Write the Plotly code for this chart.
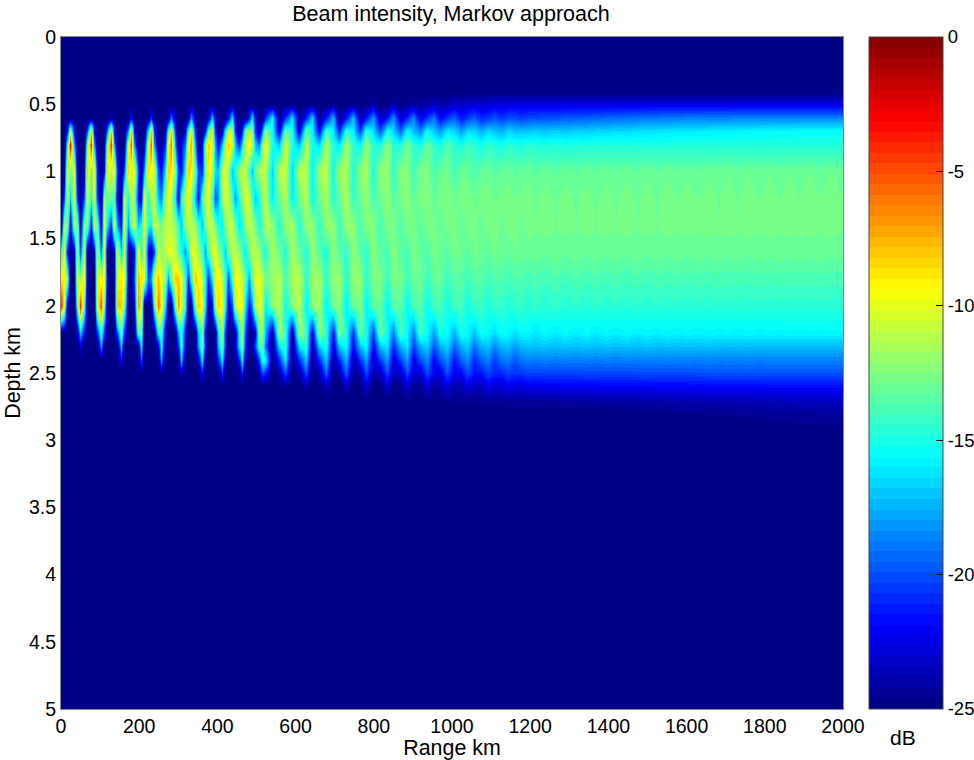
import plotly.graph_objects as go

# Column positions (km), read lobe by lobe from the picture
range_near = [0, 6.8,15.4,24,32.6,41.2,49.8, 58.4,67,75.6,84.2,92.8,101.4, 110,118.6,127.2,135.8,144.4,153,
              161.6,170.2,178.8,187.4,196,204.6, 213.2,221.8,230.4,239,247.6,256.2, 264.8,273.4,282,290.6,299.2,307.8,
              316.4,325,333.6,342.2,350.8,359.4, 368,376.6,385.2,393.8,402.4,411, 419.6,428.2,436.8,445.4,454,462.6,
              471.2,479.8,488.4,497,505.6,514.2]
range_mid = [523, 540,557,574, 592,609,626, 643,660,678, 695,712,729, 746,764,781, 798,815,833, 850,867,884,
             901,919,936, 953,970,988, 1005,1022,1039, 1056,1074,1091, 1108,1125,1143, 1160,1177,1194]
range_far = [1212,1238,1264,1290,1316,1342,1368,1394,1420,1446,1472,1498,1524,1550,1576,1602,1628,1654,1680,1706,
             1732,1758,1784,1810,1836,1862,1888,1914,1940,1966,2000]

# Attenuation below 0 dB, one list per depth (near | mid | far columns)
d050 = [25]*61 + [25, 25,25,25, 25,25,25, 25,25,25, 24.5,25,25, 24.5,25,25, 24,25,25, 24,25,24.5, 24,24.5,24, 23.5,24,24, 23,23.5,23, 23,23,23, 22.5,23,22.5, 22.5,22.5,22.5] + [22.5]*31
d060 = [25, 25,25,25,25,25,25, 25,25,25,25,25,25, 25,25,24,25,25,25, 25,25,22,25,25,25, 25,25,21,25,25,25, 25,24,19,24,25,25, 25,24,18,24,25,25, 25,23,17,23,25,25, 25,22,16,23,25,25, 25,21,16,22,25,25,
        21, 15.5,25,21, 16,25,21, 16.5,25,21.5, 17,25,21.5, 17,24,21.5, 18,23.5,21.5, 18,23,21, 18.5,22.5,20.5, 19,22,20.5, 19.5,21.5,20.5, 19.5,21,20.5, 19.8,20.5,20, 20,20.5,20,
        20,19.9,19.8,19.7,19.6,19.5,19.4,19.3,19.2,19.1,19,18.9,18.9,18.8,18.8,18.7,18.7,18.6,18.6,18.6,18.5,18.5,18.5,18.5,18.5,18.5,18.5,18.5,18.5,18.5,18.5]
d070 = [25, 25,22,11,22,25,25, 25,20,8,22,25,25, 25,19,8,22,25,25, 25,18,8,22,25,25, 25,16,8,21,25,25, 24,14,8,21,25,25, 23,14,9,21,25,25, 22,14,10,21,25,23, 16,11,11,21,25,21, 13,11,12,21,24,19,
        12, 15,23,13, 15,23,13, 15.5,22,14, 16,21,14.5, 16,20.5,14.5, 16.5,20,15, 16.5,19.5,15.5, 17,18.5,15.5, 17,18,16, 16.5,18,16.5, 16.5,17.5,16.5, 17,17.5,16.5, 17,17,17,
        16.8,17,16.7,16.9,16.6,16.8,16.5,16.6,16.4,16.5,16.3,16.3,16.2,16.2,16.1,16.1,16,16,15.9,15.9,15.8,15.8,15.7,15.7,15.6,15.6,15.5,15.5,15.5,15.5,15.5]
d080 = [25, 25,15,3,18,25,25, 25,13,4,18,25,25, 24,12,4,18,25,25, 24,11,5,18,25,25, 23,11,5,18,25,24, 21,10,6,18,25,22, 19,10,7,18,25,22, 12,8,10,18,22,17, 11,8,10,17,21,16, 11,9,11,17,19,13,
        9, 15,17,10, 15,17,11, 15,16.5,11, 15,16,11.5, 14.5,15.5,12, 14.5,15,12, 14.5,15,12.5, 14.5,15,13, 14.5,15,13.5, 14.5,15,14, 14.5,15.2,14.3, 14.7,15.2,14.5, 14.8,15,14.6,
        14.8,15,14.8,15,14.8,14.9,14.8,14.9,14.8,14.9,14.8,14.9,14.8,14.9,14.8,14.9,14.8,14.8,14.8,14.8,14.8,14.8,14.8,14.8,14.8,14.8,14.8,14.8,14.8,14.8,14.8]
d100 = [25, 24,9,13,10,24,25, 23,8,13,9,22,25, 22,8,12,9,21,25, 20,8,11,9,20,25, 18,8,10,10,20,22, 16,8,9,12,20,22, 15,8,9,13,20,21, 13,9,11,16,17,11, 10,12,17,15,11,11, 11,14,17,13,11,11,
        11, 16.5,11,10.5, 16.5,11,11, 16,11.5,11, 15.5,11.5,11.5, 15,12,11.5, 15,12,12, 14.5,12.3,12.3, 14.3,12.5,12.5, 14,13,12.8, 14,13,13, 13.8,13.2,13, 13.5,13.2,13, 13.4,13.2,13,
        13.4,13.05,13.4,13.05,13.35,13.0,13.35,13.0,13.3,13.0,13.3,12.95,13.3,12.95,13.25,12.95,13.25,12.95,13.2,12.9,13.2,12.9,13.2,12.9,13.15,12.9,13.15,12.88,13.15,12.88,13.1]
d120 = [25, 20,10,17,10,21,25, 20,10,15,10,21,25, 12,13,13,14,23,25, 11,15,11,12,22,23, 10,15,11,11,17,19, 12,10,11,16,23,15, 11,10,12,17,22,14, 11,10,14,20,18,12, 10,11,14,18,15,12, 10,11,14,17,15,12,
        11, 16,13,11, 16,13,11, 15.5,13,11.5, 15,13,11.5, 14.5,13,12, 14,13,12, 13.7,12.8,12.3, 13.3,12.6,12.4, 13.2,12.6,12.5, 13,12.7,12.6, 13,12.7,12.7, 12.9,12.8,12.7, 12.9,12.8,12.7,
        12.95,12.7,12.95,12.7,12.95,12.7,12.95,12.7,12.95,12.7,12.95,12.7,12.95,12.7,12.92,12.7,12.92,12.7,12.92,12.7,12.92,12.7,12.9,12.7,12.9,12.7,12.9,12.7,12.88,12.7,12.88]
d140 = [24, 12,12,23,12,12,24, 13,12,22,11,13,24, 10,16,21,10,18,22, 10,18,13,10,17,15, 10,15,16,10,12,13, 11,11,11,12,14,17, 12,11,11,12,14,17, 13,11,11,13,15,16, 12,11,11,13,16,15, 12,11,11,13,15,14,
        11, 12,15,12, 11.5,15,12, 12,14.5,12, 12,14.5,12, 12,14,12.3, 12.3,14,12.5, 12.5,13.7,12.5, 12.6,13.5,12.6, 12.7,13.3,12.7, 12.7,13.2,12.7, 12.7,13.1,12.7, 12.7,13,12.7, 12.7,13,12.7,
        12.9,12.7,12.9,12.7,12.9,12.7,12.9,12.7,12.9,12.7,12.9,12.7,12.9,12.7,12.88,12.7,12.88,12.7,12.88,12.7,12.88,12.7,12.88,12.7,12.88,12.7,12.88,12.7,12.88,12.7,12.85]
d160 = [15, 10,22,25,23,10,20, 11,25,25,23,10,19, 10,25,25,23,9,17, 10,24,25,22,9,15, 10,23,24,20,10,13, 11,10,10,11,13,15, 18,15,10,10,12,14, 18,14,10,10,12,14, 17,13,11,11,12,14, 16,13,11,11,12,14,
        15, 11.5,13,15, 11.5,13,15, 12,13.5,15, 12,13.5,14.5, 12,13.5,14.5, 12.3,13.5,14, 12.3,13.5,14, 12.5,13.3,13.7, 12.6,13.2,13.5, 12.7,13.1,13.4, 12.8,13.1,13.3, 12.8,13.1,13.2, 12.9,13,13.1,
        12.95,13.2,12.95,13.2,12.95,13.2,12.95,13.2,12.95,13.2,12.95,13.2,12.95,13.2,12.95,13.2,12.95,13.2,12.95,13.2,12.95,13.2,12.95,13.15,12.95,13.15,12.95,13.15,12.95,13.15,13.05]
d180 = [9, 9,12,25,25,9,12, 9,25,25,25,9,10, 9,24,25,24,9,9, 9,24,25,20,8,9, 10,20,18,10,8,10, 12,18,13,8,8,10, 14,21,15,8,9,11, 15,21,16,9,9,11, 14,20,14,9,10,11, 13,18,13,10,10,11,
        13, 12,11,14, 11.5,11,14.5, 12,11.5,14.5, 12,12,14.5, 12,12,14.5, 12.5,12.5,14.3, 12.7,12.7,14.2, 13,13,14.2, 13.2,13.2,14.2, 13.4,13.4,14.1, 13.5,13.5,14.1, 13.7,13.6,14, 13.7,13.7,14,
        13.7,14,13.7,14,13.7,14,13.75,14,13.75,14,13.8,14,13.8,13.95,13.8,13.95,13.8,13.95,13.8,13.95,13.85,13.95,13.85,13.95,13.85,13.9,13.85,13.9,13.85,13.9,13.85]
d200 = [4, 10,24,25,25,14,4, 14,25,25,25,10,5, 13,25,25,24,8,8, 13,25,25,23,7,9, 25,25,25,14,6,9, 16,25,25,13,7,10, 15,25,24,12,8,10, 16,24,22,11,8,10, 15,23,20,11,9,10, 16,22,18,11,10,11,
        16, 12.5,11,15.5, 12.5,11,16, 12.5,11.5,16, 13,12,16, 13,12.5,16, 13.3,13,16, 13.5,13.3,15.8, 13.7,13.5,15.5, 14,13.8,15.3, 14.1,14,15.2, 14.2,14.2,15, 14.3,14.3,14.9, 14.4,14.4,14.8,
        14.4,14.8,14.4,14.8,14.45,14.8,14.45,14.8,14.5,14.75,14.5,14.75,14.5,14.75,14.55,14.75,14.55,14.75,14.55,14.7,14.6,14.7,14.6,14.7,14.6,14.7,14.6,14.7,14.6,14.7,14.65]
d220 = [25, 25,25,25,25,24,17, 22,25,25,25,21,14, 21,25,25,25,20,13, 21,25,25,25,14,13, 25,25,25,25,15,14, 23,25,25,25,18,14, 22,25,25,25,17,13, 22,25,25,25,16,12, 21,25,25,24,15,12, 20,25,25,23,12,12,
        17, 24,11.5,14, 24,11.5,14, 23,12,14.5, 22,12.5,15, 21,13,15, 20.5,13,15.3, 19,14,15.5, 19,14,15.5, 18,15,15.5, 17.5,15,15.7, 17,15.3,15.7, 16.5,15.5,15.7, 16.3,15.6,15.7,
        16.2,15.6,16.1,15.6,16.1,15.6,16.1,15.65,16,15.65,16,15.7,16,15.7,15.95,15.7,15.95,15.7,15.9,15.7,15.9,15.7,15.85,15.7,15.85,15.7,15.8,15.7,15.8,15.7,15.75]
d230 = [25, 25,25,25,25,25,23, 25,25,25,25,25,18, 25,25,25,25,25,17, 25,25,25,25,24,16, 25,25,25,25,23,15, 24,25,25,25,21,14, 23,25,25,25,18,13, 21,25,25,24,17,13, 21,25,25,23,16,13, 21,25,24,20,14,13,
        19, 25,16,14, 25,16,14.5, 24,16.5,15, 23,16.5,15.5, 22,17,15.5, 22,17,16, 21,17.5,16, 20.5,17.5,16.5, 20,17.5,16.5, 19.5,17.5,16.7, 19,17.5,17, 18.5,17.3,17, 18,17.2,17,
        17.2,17,17.2,17,17.2,17,17.2,17,17.2,17.05,17.2,17.05,17.2,17.1,17.2,17.1,17.2,17.1,17.2,17.15,17.2,17.15,17.2,17.2,17.2,17.2,17.2,17.2,17.2,17.2,17.3]
d240 = [25, 25,25,25,25,25,25, 25,25,25,25,25,25, 25,25,25,25,25,22, 25,25,25,25,25,20, 25,25,25,25,25,18, 25,25,25,25,25,17, 25,25,25,25,23,16, 25,25,25,25,21,16, 24,25,25,25,21,16, 24,25,25,25,20,15,
        15, 25,21,16, 25,21,17, 25,21,17, 24.5,21,17.5, 24,20.5,18, 23.5,20.5,18, 23,20.5,18, 22.5,20,18.5, 22,20,18.5, 21.5,19.5,18.5, 21,19.5,18.7, 20.5,19.2,18.7, 20,19,18.7,
        19,18.7,18.9,18.7,18.9,18.7,18.9,18.7,18.9,18.7,18.8,18.7,18.8,18.7,18.8,18.7,18.8,18.7,18.8,18.7,18.8,18.7,18.8,18.7,18.7,18.7,18.7,18.7,18.7,18.7,18.7]
d250 = [25]*31 + [25,25,25,25,25,23.5, 25,25,25,25,25,22, 25,25,25,25,25,21, 25,25,25,25,25,21, 25,25,25,25,24,20,
        21, 25,24,20, 25,24,20, 25,24,19.5, 25,24,19.5, 24.5,24,20, 24,23.5,20, 23.5,23.5,20, 23,23,20, 22.5,22.5,20, 22,22,20, 21.5,21.5,20.2, 21,21,20.3, 20.7,20.7,20.3,
        20.4,20.3,20.3,20.3,20.3,20.2,20.2,20.2,20.2,20.2,20.1,20.1,20.1,20.1,20.1,20.1,20,20,20,20,20,20,20,20,20,20,20,20,20,20,20]
d260 = [25]*61 + [25, 25,25,24.5, 25,25,24, 25,25,23.5, 25,25,23.5, 25,25,23, 25,25,23, 25,24.5,23, 24.5,24.5,23, 24.5,24,22.5, 24,24,22.5, 23.5,23.5,22.3, 23,23,22.2, 22.7,22.7,22.2,
        22.3,22.2,22.2,22.1,22.1,22.1,22.1,22,22,22,22,22,21.9,21.9,21.9,21.9,21.9,21.8,21.8,21.8,21.8,21.8,21.8,21.7,21.7,21.7,21.7,21.7,21.7,21.7,21.7]
d270 = [25]*61 + [25, 25,25,25, 25,25,25, 25,25,25, 25,25,25, 25,25,25, 25,25,24.9, 24.9,24.8,24.8, 24.8,24.7,24.7, 24.7,24.6,24.6, 24.5,24.5,24.5, 24.5,24.4,24.4, 24.4,24.4,24.3, 24.3,24.3,24.3,
        24.3,24.2,24.2,24.2,24.1,24.1,24.1,24,24,24,23.9,23.9,23.9,23.8,23.8,23.8,23.7,23.7,23.7,23.6,23.6,23.6,23.5,23.5,23.5,23.4,23.4,23.4,23.3,23.3,23.3]
d280 = [25]*101 + [25,25,25,25,25,25,25,24.9,24.9,24.9,24.8,24.8,24.8,24.8,24.7,24.7,24.7,24.6,24.6,24.6,24.5,24.5,24.5,24.4,24.4,24.4,24.3,24.3,24.2,24.2,24.1]
d290 = [25]*101 + [25,25,25,25,25,25,25,25,25,25,25,25,25,25,25,25,25,25,25,25,25,24.9,24.9,24.9,24.8,24.8,24.8,24.8,24.7,24.7,24.7]
background = [25]*132

depths = [0, 0.4, 0.5, 0.6, 0.7, 0.8, 1.0, 1.2, 1.4, 1.6, 1.8, 2.0, 2.2, 2.3, 2.4, 2.5, 2.6, 2.7, 2.8, 2.9, 3.0, 5.0]
rows = [background, background, d050, d060, d070, d080, d100, d120, d140, d160, d180, d200, d220, d230, d240, d250, d260, d270, d280, d290, background, background]

x_ticks = [0,200,400,600,800,1000,1200,1400,1600,1800,2000]
y_ticks = [0,0.5,1,1.5,2,2.5,3,3.5,4,4.5,5]
y_text = ["0","0.5","1","1.5","2","2.5","3","3.5","4","4.5","5"]
cb_ticks = [-25,-20,-15,-10,-5,0]
cb_text = ["-25","-20","-15","-10","-5","0"]

ranges = range_near + range_mid + range_far
for r in rows:
    assert len(r) == len(ranges), len(r)
z = [[-v for v in r] for r in rows]

def jet(p):
    c = lambda t: max(0.0, min(1.0, t))
    return (c(1.5-abs(4*p-3)), c(1.5-abs(4*p-2)), c(1.5-abs(4*p-1)))

N = 64
scale = []
for i in range(N):
    r, g, b = jet((i+0.5)/N)
    col = f"rgb({round(r*255)},{round(g*255)},{round(b*255)})"
    scale += [[i/N, col], [(i+1)/N, col]]

L, R, T, B = 60.5, 131, 37, 51
W, H = 974, 760
pw = W-L-R
FS = 19.5

fig = go.Figure(go.Heatmap(
    x=ranges, y=depths, z=z, zmin=-25, zmax=0, zsmooth="best", colorscale=scale,
    colorbar=dict(x=(869.5-L)/pw, xanchor="left", xpad=0, ypad=0, y=0.5, len=1, thickness=74,
                  outlinecolor="#444", outlinewidth=1, ticks="inside", ticklen=7, tickcolor="black",
                  tickvals=cb_ticks, ticktext=cb_text, tickfont=dict(size=18.5, color="black"))))

shapes = []
for v in cb_ticks[1:-1]:
    yy = (v+25)/25
    shapes.append(dict(type="line", xref="paper", yref="paper", x0=(869.5-L)/pw, x1=(876.5-L)/pw, y0=yy, y1=yy,
                       line=dict(color="black", width=1)))

fig.update_layout(
    width=W, height=H, margin=dict(l=L, r=R, t=T, b=B, autoexpand=False),
    paper_bgcolor="white", plot_bgcolor="rgb(0,0,128)",
    font=dict(family="Liberation Sans, Arial, sans-serif", size=FS, color="black"),
    title=dict(text="Beam intensity, Markov approach", x=451/W, xanchor="center", y=1-13/H, yanchor="middle",
               font=dict(size=21.5, color="black")),
    xaxis=dict(range=[0,2000], tickvals=x_ticks, ticks="", showgrid=False, zeroline=False, showline=True, mirror=True,
               linecolor="#888", linewidth=1, title=dict(text="Range km", standoff=0, font=dict(size=21.4))),
    yaxis=dict(range=[5,0], tickvals=y_ticks, ticktext=y_text, ticks="", showgrid=False, zeroline=False, showline=True, mirror=True,
               linecolor="#888", linewidth=1, title=dict(text="Depth km", standoff=2, font=dict(size=21.4))),
    shapes=shapes,
    annotations=[dict(text="dB", xref="paper", yref="paper", x=(903-L)/pw, y=-28/(H-T-B), xanchor="center", yanchor="middle",
                      showarrow=False, font=dict(size=21, color="black"))],
)
fig.write_html("out.html", config={"displayModeBar": False},
               post_script="document.body.style.margin='0';document.body.style.padding='0';")
